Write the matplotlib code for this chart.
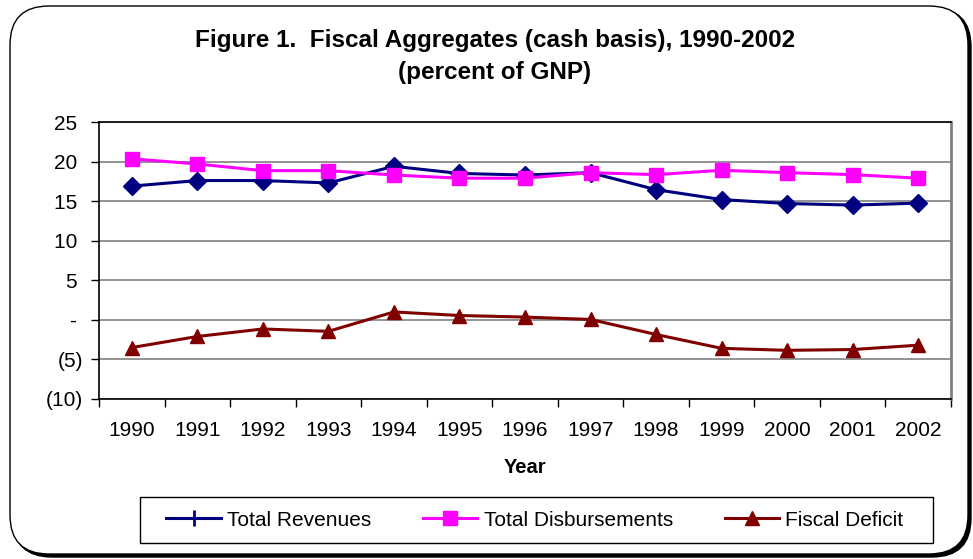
import matplotlib
matplotlib.use("Agg")
import matplotlib.pyplot as plt
from matplotlib.patches import FancyBboxPatch, Rectangle
from matplotlib.lines import Line2D
import numpy as np

years = ["1990", "1991", "1992", "1993", "1994", "1995", "1996",
         "1997", "1998", "1999", "2000", "2001", "2002"]
revenues = [16.9, 17.6, 17.6, 17.3, 19.4, 18.5, 18.3, 18.6, 16.45, 15.2, 14.7, 14.5, 14.75]
disbursements = [20.35, 19.7, 18.85, 18.85, 18.3, 17.9, 17.9, 18.6, 18.35, 18.9, 18.6, 18.35, 17.9]
deficit = [-3.5, -2.1, -1.15, -1.45, 1.0, 0.55, 0.35, 0.05, -1.85, -3.6, -3.85, -3.75, -3.2]
yticks = [25, 20, 15, 10, 5, 0, -5, -10]
ytick_labels = ["25 ", "20 ", "15 ", "10 ", "5 ", "- ", "(5)", "(10)"]

plt.rcParams['font.family'] = ['Liberation Sans', 'DejaVu Sans']

W, H = 973, 559
fig = plt.figure(figsize=(W / 100, H / 100), dpi=100)

def fx(x): return x / W
def fy(y): return 1 - y / H

shadow = FancyBboxPatch((fx(13), fy(557)), fx(958), fy(8) - fy(557),
                        boxstyle="round,pad=0,rounding_size=0.04",
                        transform=fig.transFigure, facecolor="black",
                        edgecolor="black", lw=1, zorder=0,
                        mutation_aspect=W / H)
frame = FancyBboxPatch((fx(10), fy(554)), fx(958), fy(6) - fy(554),
                       boxstyle="round,pad=0,rounding_size=0.04",
                       transform=fig.transFigure, facecolor="white",
                       edgecolor="black", lw=1, zorder=1,
                       mutation_aspect=W / H)
legbox = Rectangle((fx(140), fy(543)), fx(933) - fx(140), fy(497) - fy(543),
                   transform=fig.transFigure, facecolor="white",
                   edgecolor="black", lw=1, zorder=2)
fig.patches.extend([shadow, frame, legbox])

ax = fig.add_axes([fx(99), fy(399), fx(951) - fx(99), fy(122) - fy(399)])
ax.set_zorder(2)
x = np.arange(len(years))

ax.plot(x, revenues, color="#000080", lw=2.2, marker="D", markersize=9.5,
        zorder=3, clip_on=False)
ax.plot(x, disbursements, color="#FF00FF", lw=2.2, marker="s", markersize=10,
        zorder=4, clip_on=False)
ax.plot(x, deficit, color="#800000", lw=2.2, marker="^", markersize=10.5,
        zorder=3, clip_on=False)

ax.set_xlim(-0.5, len(years) - 0.5)
ax.set_ylim(-10, 25)
ax.set_yticks(yticks)
ax.set_yticklabels(ytick_labels)
for yv in yticks:
    ax.axhline(yv, color="#808080", lw=1.2, zorder=1)

ax.set_xticks(x)
ax.set_xticklabels(years)
ax.set_xticks(np.arange(-0.5, len(years) + 0.5, 1), minor=True)
ax.tick_params(axis="x", which="major", length=0, pad=16, labelsize=15)
ax.tick_params(axis="x", which="minor", length=6, width=1, direction="out")
ax.tick_params(axis="y", length=6, width=1, direction="out", pad=5.5, labelsize=15)

for s in ["left", "bottom", "top"]:
    ax.spines[s].set_color("black")
    ax.spines[s].set_linewidth(1.2)
ax.spines["right"].set_color("#808080")
ax.spines["right"].set_linewidth(2)

ax.set_xlabel("Year", fontsize=14.5, fontweight="bold", labelpad=13)

fig.text(fx(495), fy(40), "Figure 1.  Fiscal Aggregates (cash basis), 1990-2002",
         ha="center", va="center", fontsize=17.5, fontweight="bold")
fig.text(fx(495), fy(72), "(percent of GNP)",
         ha="center", va="center", fontsize=17.5, fontweight="bold")

handles = [
    Line2D([], [], color="#000080", lw=2.2, marker="|", markersize=12, markeredgewidth=2),
    Line2D([], [], color="#FF00FF", lw=2.2, marker="s", markersize=10),
    Line2D([], [], color="#800000", lw=2.2, marker="^", markersize=10),
]
labels = ["Total Revenues", "Total Disbursements", "Fiscal Deficit"]
leg = fig.legend(handles, labels, loc="center",
                 bbox_to_anchor=(fx(535), fy(520)), ncol=3, fontsize=15,
                 frameon=False, handlelength=2.6, handletextpad=0.3,
                 columnspacing=2.5, borderpad=0.0, borderaxespad=0.0)
leg.set_zorder(5)

fig.savefig("out.png", dpi=100)
